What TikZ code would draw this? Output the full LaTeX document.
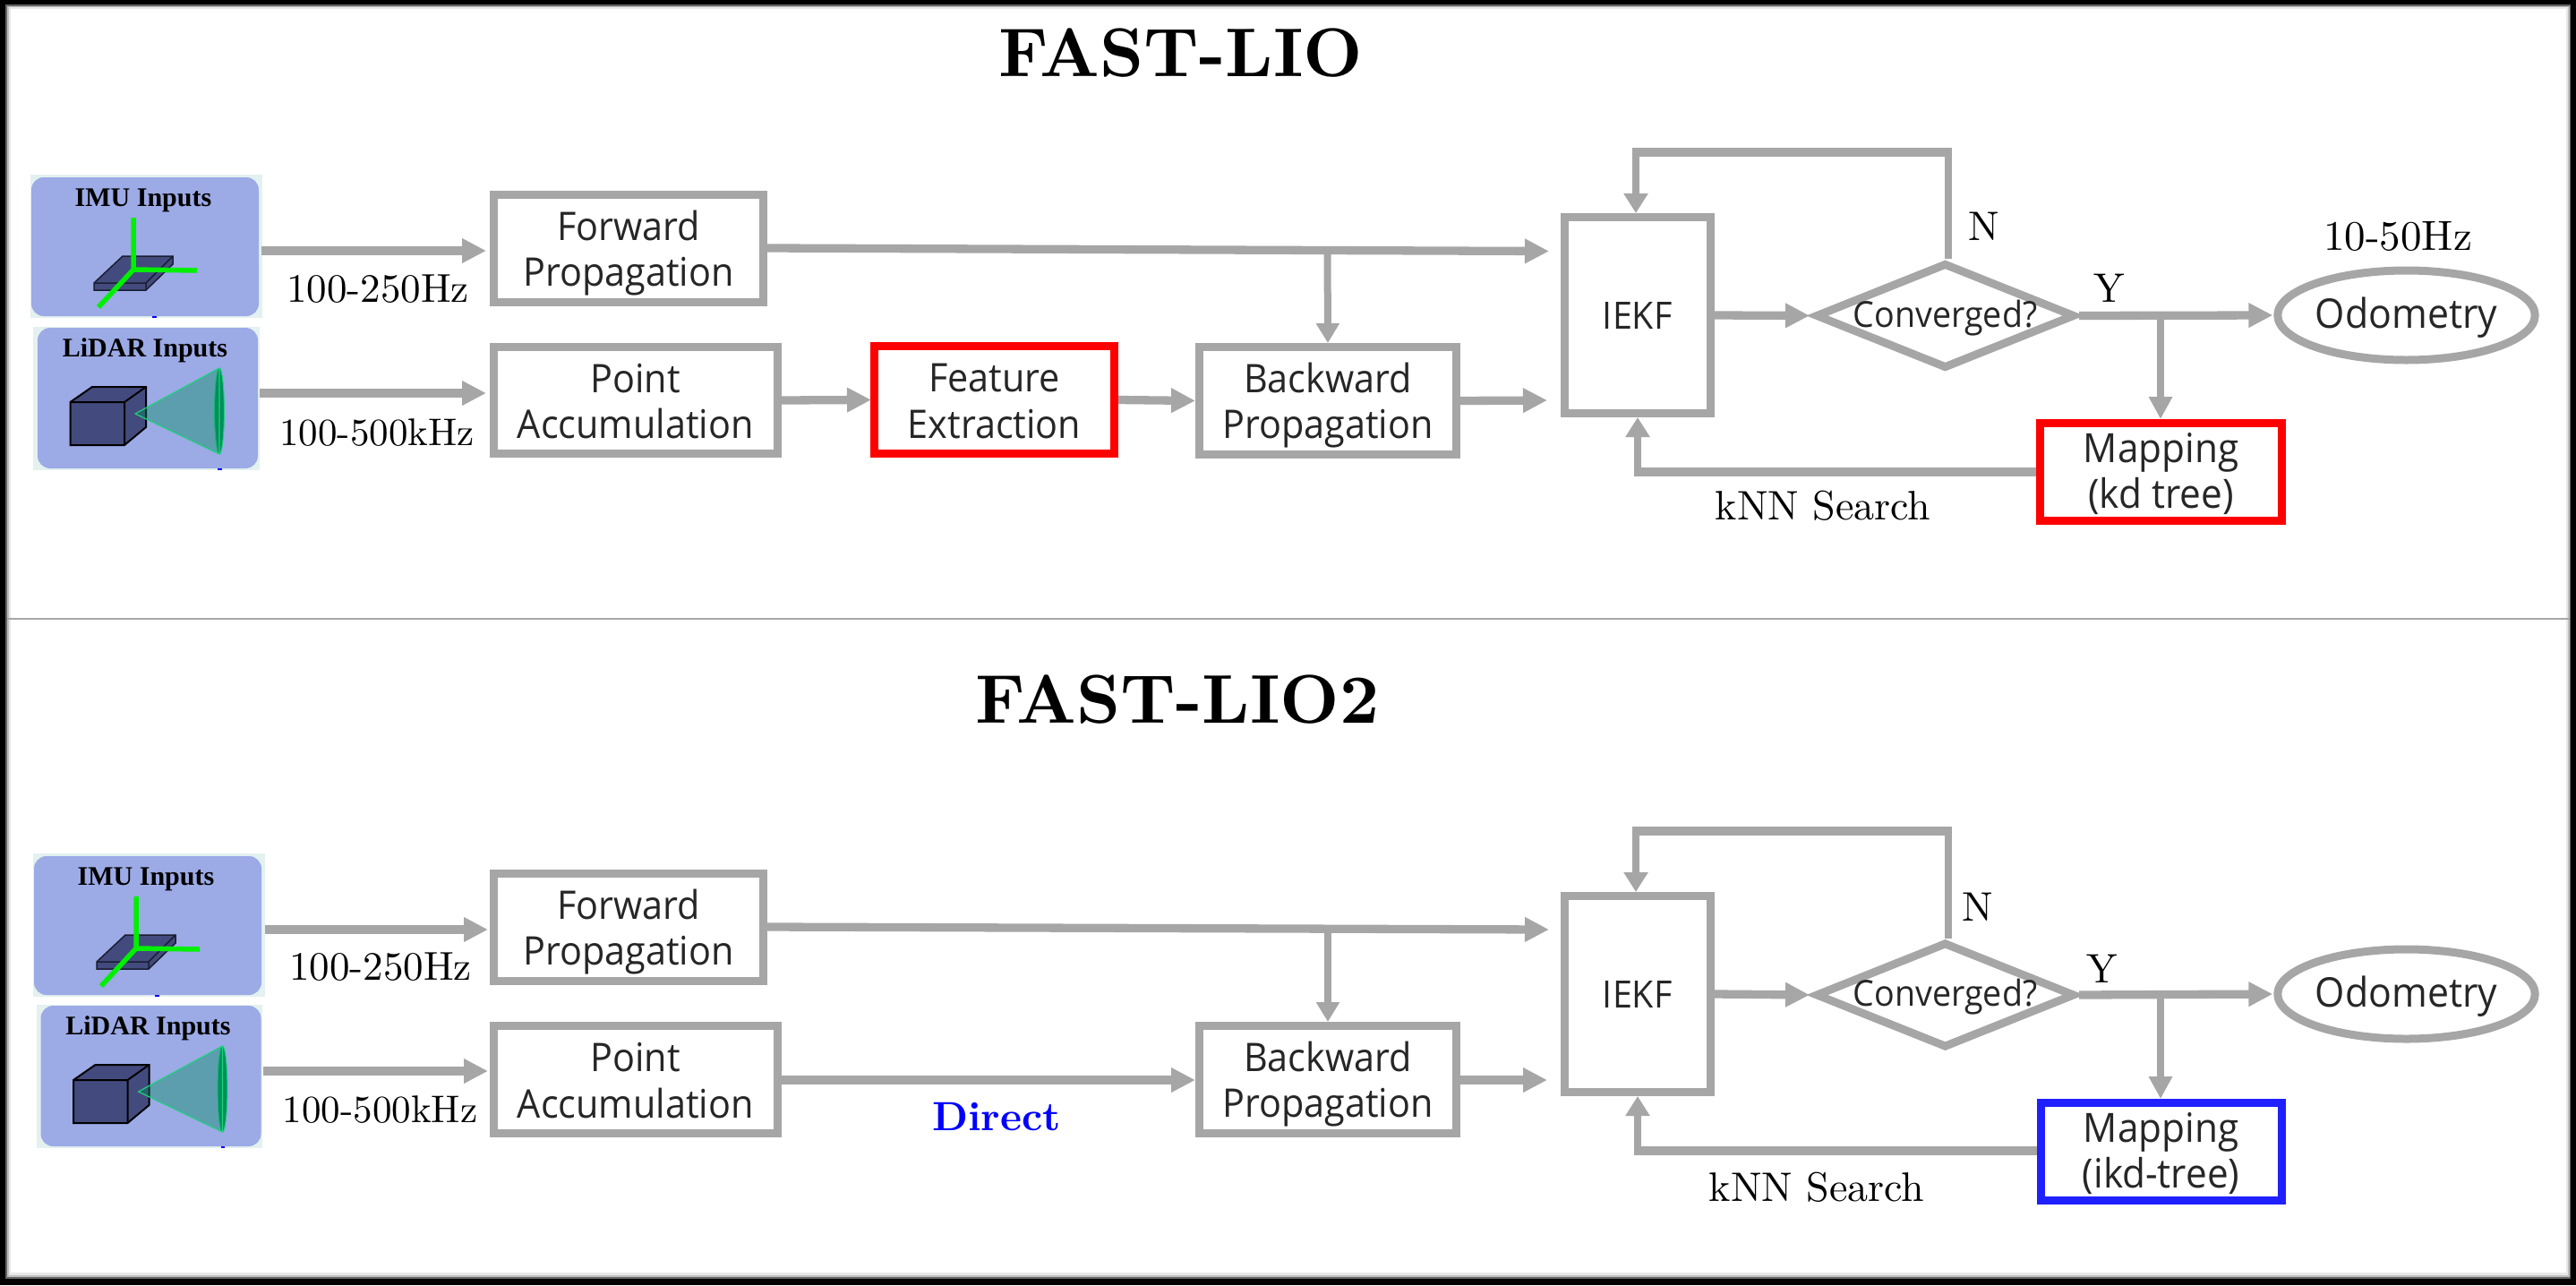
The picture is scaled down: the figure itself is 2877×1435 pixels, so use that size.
\documentclass[tikz,border=0pt]{standalone}
\usepackage{fontspec}
\usepackage{graphicx}
\usetikzlibrary{arrows.meta,shapes.geometric,positioning}
\newfontfamily\boxfont[FakeStretch=0.94]{Open Sans}
\newfontfamily\timesfont{Liberation Serif}
\definecolor{arrgray}{HTML}{A6A6A6}
\definecolor{panelbg}{HTML}{E3F1F0}
\definecolor{panelfg}{HTML}{9CAAE6}
\definecolor{navy}{HTML}{434B7E}
\definecolor{conegreen}{HTML}{008E5A}
\definecolor{coneedge}{HTML}{1ED07E}
\definecolor{axisgreen}{HTML}{00F000}
\definecolor{boxtext}{HTML}{262626}
\definecolor{mapblue}{HTML}{2020FF}
\newcommand{\upstrut}{\rule{0pt}{40pt}}
\newcommand{\flowstrut}{\rule{0pt}{44pt}}
\newcommand{\downstrut}{\rule[-10pt]{0pt}{10pt}}
\newcommand{\lmtext}[2]{\scalebox{#1}{\fontsize{10}{12}\selectfont #2}}
\newcommand{\imuicon}{%
  \fill[navy,draw=black!60!navy,line width=1.5pt] (105,316) -- (137,286) -- (193,286) -- (193,295) -- (163,324) -- (105,324) -- cycle;
  \draw[black!60!navy,line width=1.5pt] (105,316) -- (163,316) -- (193,286) (163,316) -- (163,324);
  \draw[axisgreen,line width=5.5pt] (149,243) -- (149,301) -- (220,302) (149,301) -- (110,343);
  \fill[blue] (170,352.8) rectangle (174.5,354.8);
}
\newcommand{\lidaricon}{%
  \fill[navy,draw=black,line width=2pt] (78.5,449) -- (103,432) -- (163,432) -- (163,477) -- (139,497) -- (78.5,497) -- cycle;
  \draw[black,line width=2pt] (78.5,449) -- (139,449) -- (163,432) (139,449) -- (139,497);
  \fill[conegreen,draw=coneedge,line width=1pt] (245,459) ellipse (5.4 and 48);
  \fill[conegreen,fill opacity=.4,draw=coneedge,line width=1.2pt,line join=round] (245,411) -- (151,462) -- (245,507) -- cycle;
  \fill[blue] (243,523.3) rectangle (247.5,525.3);
}
\tikzset{
  flowbox/.style={draw=arrgray,line width=9pt,fill=white,inner sep=0pt,align=center,text=boxtext,
    font=\boxfont\fontsize{44}{51.5}\selectfont},
  arr/.style={draw=arrgray,line width=9.3pt,-{Triangle[length=27pt,width=26pt]}},
  arrv/.style={draw=arrgray,line width=8pt,-{Triangle[length=22pt,width=25pt]}},
  vertarrow/.style={draw=arrgray,line width=7.6pt,-{Triangle[length=22pt,width=26pt]}},
  vertline/.style={draw=arrgray,line width=7.6pt},
  plainline/.style={draw=arrgray,line width=9.3pt,shorten <=-3.8pt,shorten >=-3.8pt},
  lbl/.style={anchor=base,inner sep=0pt},
  panelback/.style={fill=panelbg,inner sep=0pt},
  panelfront/.style={fill=panelfg,rounded corners=14pt,inner sep=0pt},
  paneltext/.style={anchor=base,inner sep=0pt,font=\timesfont\bfseries\fontsize{30}{34}\selectfont},
  decision/.style={diamond,aspect=2.4,draw=arrgray,line width=9pt,fill=white,inner sep=0pt,
    minimum width=290pt,minimum height=118pt,text=boxtext,font=\boxfont\fontsize{40}{44}\selectfont},
  output/.style={ellipse,draw=arrgray,line width=9pt,fill=white,inner sep=0pt,
    minimum width=285pt,minimum height=100pt,text=boxtext,font=\boxfont\fontsize{45.5}{50}\selectfont},
  ekfbox/.style={flowbox,font=\boxfont\fontsize{42}{50}\selectfont,minimum width=163.5pt,minimum height=219pt},
  mapbox/.style={flowbox,font=\boxfont\fontsize{45}{51.5}\selectfont,minimum height=108.5pt},
}
\begin{document}
\begin{tikzpicture}[x=1pt,y=-1pt]
\useasboundingbox (0,0) rectangle (2877,1435);
% frame
\fill[black] (0,0) rectangle (2877,1435);
\fill[black!60] (6,5) rectangle (2871,1428);
\fill[black!25] (8,6.5) rectangle (2869.5,1426);
\fill[black!9] (10,8) rectangle (2868,1424);
\fill[white] (12,10) rectangle (2866,1421);
\coordinate (sepl) at (8,691);
\coordinate (sepr) at (2870,691);
\draw[arrgray,line width=2pt] (sepl) -- (sepr);

% ---------- FAST-LIO ----------
\node[lbl] (t1) at (1319,85.7) {\lmtext{7.7}{\bfseries FAST-LIO}};
\node[panelback,minimum width=259pt,minimum height=160pt] (imub1) at (163.5,275) {};
\node[panelfront,minimum width=254pt,minimum height=155pt] (imu1) at (162,275.5) {};
\node[panelback,minimum width=253pt,minimum height=160pt] (lidb1) at (163.5,445) {};
\node[panelfront,minimum width=246pt,minimum height=157pt] (lid1) at (165,444.5) {};
\node[paneltext] (imut1) at (160,230) {IMU Inputs};
\node[paneltext] (lidt1) at (162,398) {LiDAR Inputs};
\imuicon
\lidaricon

\node[flowbox,minimum width=301pt,minimum height=120pt] (fwd1) at (702,277.5) {\flowstrut Forward\\Propagation\downstrut};
\node[flowbox,minimum width=316.5pt,minimum height=119pt] (pt1) at (709.75,447) {\flowstrut Point\\Accumulation\downstrut};
\node[flowbox,draw=red,minimum width=268pt,minimum height=120pt] (feat1) at (1110.5,446.5) {\flowstrut Feature\\Extraction\downstrut};
\node[flowbox,minimum width=287pt,minimum height=120pt] (back1) at (1483,447.5) {\flowstrut Backward\\Propagation\downstrut};
\node[ekfbox] (iekf1) at (1828.75,352) {\upstrut IEKF\downstrut};
\node[decision] (conv1) at (2172.5,352.5) {\makebox[0pt]{\rule{0pt}{35pt}\rule[-7pt]{0pt}{7pt}Converged?}};
\node[output] (odo1) at (2687.5,352) {\rule{0pt}{40pt}Odometry\rule[-10pt]{0pt}{10pt}};
\node[mapbox,draw=red,minimum width=270pt] (map1) at (2413.5,526.75) {\upstrut Mapping\\(kd tree)\downstrut};

\node[lbl] (l11) at (422,337) {\lmtext{4.5}{100-250Hz}};
\node[lbl] (l12) at (421,497) {\lmtext{4.3}{100-500kHz}};
\node[lbl] (l13) at (2036,580) {\lmtext{4.6}{kNN Search}};
\node[lbl] (l14) at (2216,268) {\lmtext{4.6}{N}};
\node[lbl] (l15) at (2356,337) {\lmtext{4.6}{Y}};
\node[lbl] (l16) at (2678,279) {\lmtext{4.7}{10-50Hz}};

\coordinate (fe1) at (1730,280.5);
\coordinate (fj1) at (1482.5,279);
\coordinate (ce1) at (1728,447);
\coordinate (top1) at (2176,170);
\coordinate (topl1) at (1827,170);
\coordinate (yj1) at (2413,352);
\coordinate (bot1) at (1829,527);
\draw[arr] (imu1.east |- 0,280) ++(3,0) -- (543,280);
\draw[arr] (lid1.east |- 0,439) ++(2,0) -- (543,439);
\draw[arr] (fwd1.east |- 0,277) -- (fe1);
\draw[arrv] (fj1) -- (back1.north);
\draw[arr,shorten >=-1pt] (pt1.east) -- (feat1.west);
\draw[arr] (feat1.east) -- (back1.west);
\draw[arr] (back1.east) -- (ce1);
\draw[arr,shorten >=2pt] (iekf1.east) -- (conv1.west);
\draw[vertline] (conv1.north -| top1) -- (top1);
\draw[plainline] (top1) -- (topl1);
\draw[vertarrow] (topl1) -- (iekf1.north -| topl1);
\draw[arr,shorten >=1pt] (conv1.east) -- (odo1.west);
\draw[arrv,-{Triangle[length=25pt,width=25pt]}] (yj1) -- (map1.north -| yj1);
\draw[plainline,shorten <=0pt] (map1.west |- bot1) -- (bot1);
\draw[vertarrow] (bot1) -- (iekf1.south -| bot1);

% ---------- FAST-LIO2 ----------
\node[lbl] (t2) at (1315,807.7) {\lmtext{7.7}{\bfseries FAST-LIO2}};
\node[panelback,minimum width=259pt,minimum height=160pt] (imub2) at (166.5,1033) {};
\node[panelfront,minimum width=254pt,minimum height=155pt] (imu2) at (165,1033.5) {};
\node[panelback,minimum width=252pt,minimum height=160pt] (lidb2) at (167,1202) {};
\node[panelfront,minimum width=246pt,minimum height=157pt] (lid2) at (168.5,1201.5) {};
\node[paneltext] (imut2) at (163,988) {IMU Inputs};
\node[paneltext] (lidt2) at (165.5,1155) {LiDAR Inputs};
\begin{scope}[shift={(3pt,-758pt)}]\imuicon\end{scope}
\begin{scope}[shift={(3.5pt,-757pt)}]\lidaricon\end{scope}

\node[flowbox,minimum width=301pt,minimum height=120pt] (fwd2) at (702,1035.5) {\flowstrut Forward\\Propagation\downstrut};
\node[flowbox,minimum width=316.5pt,minimum height=120pt] (pt2) at (709.75,1205.5) {\flowstrut Point\\Accumulation\downstrut};
\node[flowbox,minimum width=287pt,minimum height=120pt] (back2) at (1483,1205.5) {\flowstrut Backward\\Propagation\downstrut};
\node[ekfbox] (iekf2) at (1828.75,1110) {\upstrut IEKF\downstrut};
\node[decision] (conv2) at (2172.5,1111) {\makebox[0pt]{\rule{0pt}{35pt}\rule[-7pt]{0pt}{7pt}Converged?}};
\node[output] (odo2) at (2687.5,1110) {\rule{0pt}{40pt}Odometry\rule[-10pt]{0pt}{10pt}};
\node[mapbox,draw=mapblue,minimum width=269pt] (map2) at (2413.5,1285.75) {\upstrut Mapping\\(ikd-tree)\downstrut};

\node[lbl] (l21) at (425,1094) {\lmtext{4.5}{100-250Hz}};
\node[lbl] (l22) at (424.5,1253) {\lmtext{4.3}{100-500kHz}};
\node[lbl] (l23) at (2029,1341) {\lmtext{4.6}{kNN Search}};
\node[lbl] (l24) at (2209,1028) {\lmtext{4.6}{N}};
\node[lbl] (l25) at (2348,1097) {\lmtext{4.6}{Y}};
\node[lbl,text=blue] (l26) at (1113,1262) {\lmtext{4.55}{\bfseries Direct}};

\coordinate (fe2) at (1730,1038);
\coordinate (fj2) at (1483,1037);
\coordinate (ce2) at (1728,1206);
\coordinate (top2) at (2176,928);
\coordinate (topl2) at (1827,928);
\coordinate (yj2) at (2413,1110);
\coordinate (bot2) at (1829,1285);
\draw[arr] (imu2.east |- 0,1038) ++(4,0) -- (545,1038);
\draw[arr] (lid2.east |- 0,1196) ++(2,0) -- (545,1196);
\draw[arr] (fwd2.east |- 0,1035) -- (fe2);
\draw[arrv] (fj2) -- (back2.north);
\draw[arr] (pt2.east |- 0,1206) -- (back2.west |- 0,1206);
\draw[arr] (back2.east |- 0,1206) -- (ce2);
\draw[arr,shorten >=2pt] (iekf2.east) -- (conv2.west);
\draw[vertline] (conv2.north -| top2) -- (top2);
\draw[plainline] (top2) -- (topl2);
\draw[vertarrow] (topl2) -- (iekf2.north -| topl2);
\draw[arr,shorten >=1pt] (conv2.east) -- (odo2.west);
\draw[arrv,-{Triangle[length=25pt,width=25pt]}] (yj2) -- (map2.north -| yj2);
\draw[plainline,shorten <=0pt] (map2.west |- bot2) -- (bot2);
\draw[vertarrow] (bot2) -- (iekf2.south -| bot2);
\end{tikzpicture}
\end{document}
